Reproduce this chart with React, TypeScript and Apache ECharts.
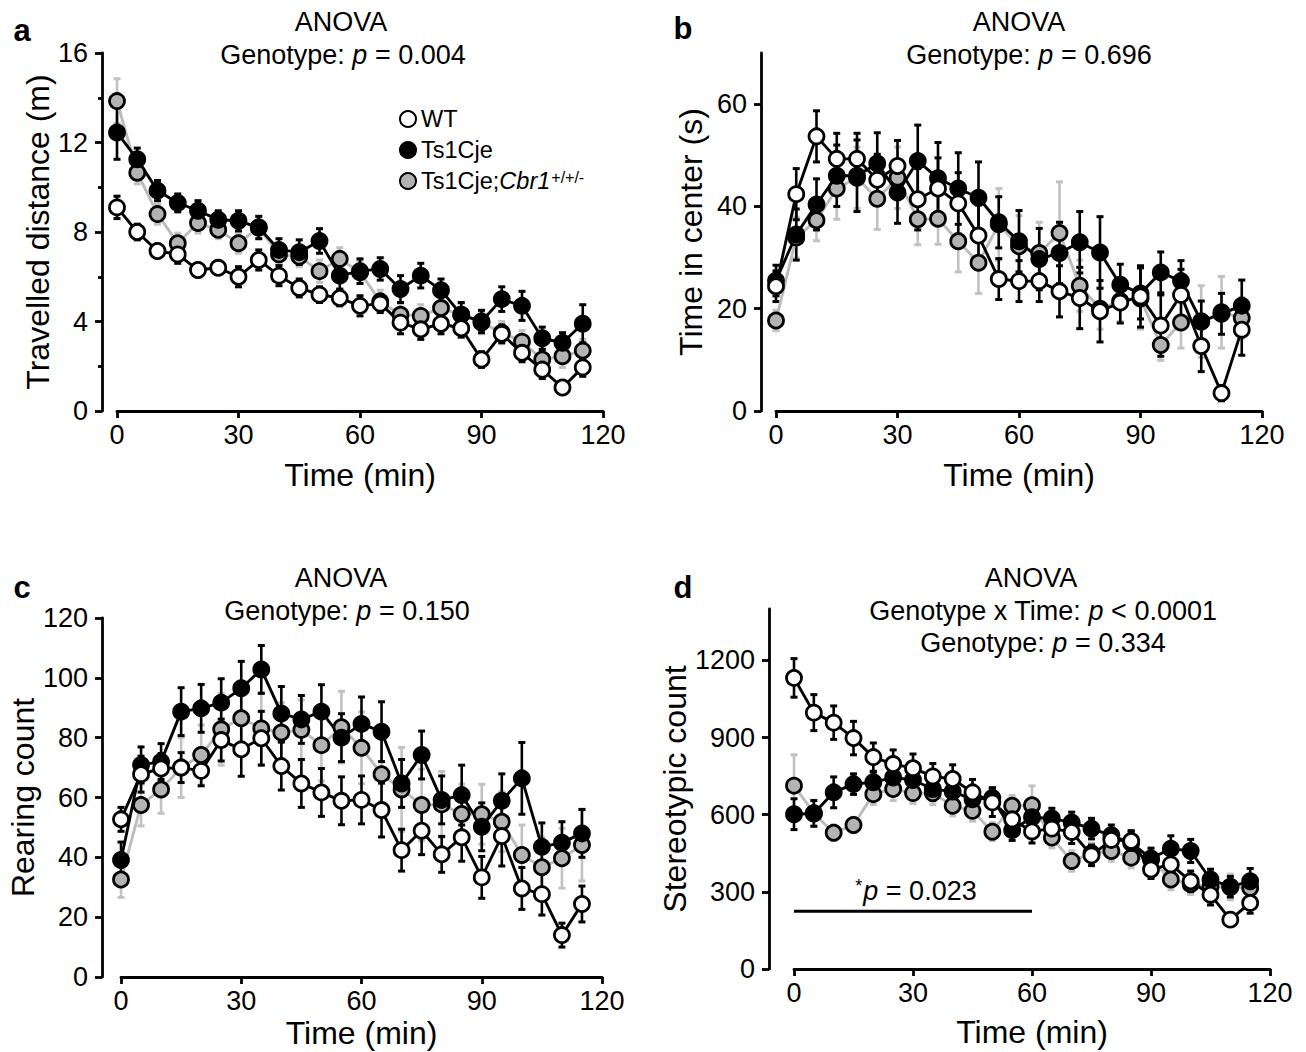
import React, { useEffect, useRef } from "react";
import * as echarts from "echarts";

const FF = "'Liberation Sans', Arial, Helvetica, sans-serif";

// time points (min)
const times = [0, 5, 10, 15, 20, 25, 30, 35, 40, 45, 50, 55, 60, 65, 70, 75, 80, 85, 90, 95, 100, 105, 110, 115];
const xTicks = [0, 30, 60, 90, 120];

// Panel a: travelled distance (m)
const aWT = [9.1, 8.0, 7.15, 7.0, 6.3, 6.4, 6.0, 6.75, 6.05, 5.5, 5.2, 5.05, 4.7, 4.8, 3.95, 3.65, 3.9, 3.7, 2.3, 3.45, 2.6, 1.85, 1.05, 1.95];
const aWTerr = [0.5, 0.35, 0.3, 0.4, 0.3, 0.3, 0.45, 0.45, 0.45, 0.4, 0.35, 0.35, 0.45, 0.4, 0.5, 0.45, 0.45, 0.4, 0.35, 0.4, 0.4, 0.4, 0.3, 0.4];
const aTs = [12.45, 11.25, 9.85, 9.3, 8.95, 8.55, 8.5, 8.2, 7.2, 7.1, 7.6, 6.05, 6.25, 6.35, 5.45, 6.05, 5.4, 4.3, 4.0, 5.0, 4.7, 3.25, 3.05, 3.9];
const aTsErr = [1.2, 0.5, 0.45, 0.4, 0.45, 0.4, 0.45, 0.5, 0.5, 0.55, 0.55, 0.6, 0.55, 0.5, 0.6, 0.55, 0.5, 0.55, 0.5, 0.55, 0.65, 0.5, 0.45, 0.85];
const aCb = [13.85, 10.65, 8.8, 7.5, 8.4, 8.1, 7.5, 8.2, 7.0, 6.9, 6.25, 6.8, 6.2, 4.9, 4.3, 4.25, 4.6, 4.3, 3.95, 3.5, 3.1, 2.3, 2.45, 2.7];
const aCbErr = [1.0, 0.5, 0.45, 0.45, 0.45, 0.4, 0.45, 0.5, 0.45, 0.45, 0.5, 0.5, 0.5, 0.5, 0.5, 0.5, 0.5, 0.5, 0.5, 0.5, 0.5, 0.5, 0.5, 0.5];

// Panel b: time in center (s)
const bWT = [24.4, 42.4, 53.7, 49.3, 49.3, 45.2, 47.9, 41.4, 43.5, 40.6, 34.3, 25.8, 25.4, 25.4, 23.4, 22.1, 19.5, 21.2, 22.4, 16.7, 22.7, 12.7, 3.5, 15.9];
const bWTerr = [3, 5, 5, 5, 5, 5, 5, 6, 6, 6, 6, 4, 4, 4, 5, 6, 6, 4, 6, 6, 5, 5, 1.5, 5];
const bTs = [25.5, 34.5, 40.4, 46, 46, 48.4, 42.7, 48.9, 45.5, 43.5, 41.7, 36.9, 33.2, 29.7, 30.9, 33.0, 31.0, 24.7, 23, 27.1, 25.4, 17.5, 19, 20.6];
const bTsErr = [3, 5, 5, 6, 7, 6, 6, 7, 7, 7, 7, 5, 6, 6, 6, 6, 7, 4, 5, 4, 4, 4, 4, 5];
const bCb = [17.7, 33.9, 37.3, 43.5, 45.6, 41.5, 45.6, 37.5, 37.6, 33.2, 29.0, 36.5, 32.2, 30.9, 34.8, 24.5, 20, 21.5, 22, 12.9, 17.3, 17.5, 19.3, 18.2];
const bCbErr = [2, 4, 4, 6, 6, 6, 6, 5, 5, 6, 6, 7, 6, 6, 10, 5, 4, 4, 6, 3, 5, 7, 7, 4];

// Panel c: rearing count
const cWT = [52.7, 67.8, 69.7, 70.0, 68.9, 79.2, 76.1, 79.8, 70.5, 64.7, 61.7, 58.9, 59.2, 55.8, 42.4, 48.9, 41.0, 46.7, 33.3, 47.1, 29.6, 27.7, 14.0, 24.4];
const cWTerr = [4, 6, 5, 5, 5, 7, 9, 9, 8, 8, 8, 8, 8, 9, 7, 8, 6, 8, 7, 10, 7, 7, 4, 6];
const cTs = [39.1, 70.9, 72.0, 88.7, 89.8, 91.7, 96.5, 102.8, 88.1, 86.1, 88.7, 80.0, 84.6, 82.0, 64.7, 74.2, 59.2, 60.8, 50.2, 58.9, 66.4, 43.5, 44.9, 48.0];
const cTsErr = [6, 6, 6, 8, 8, 8, 9, 8, 9, 8, 9, 8, 9, 10, 8, 8, 8, 10, 8, 9, 12, 8, 7, 8];
const cCb = [32.6, 57.5, 62.7, 70, 74.2, 82.8, 86.5, 83.1, 81.7, 82.6, 77.5, 83.5, 76.6, 67.8, 62.7, 57.5, 57.7, 54.5, 54.4, 51.9, 40.8, 36.7, 39.7, 44.1];
const cCbErr = [6, 7, 8, 10, 10, 12, 12, 12, 10, 10, 12, 12, 12, 14, 14, 12, 11, 10, 10, 10, 10, 10, 10, 12];

// Panel d: stereotypic count
const dWT = [1132, 997, 958, 898, 824, 797, 781, 749, 739, 687, 648, 582, 535, 546, 533, 442, 502, 498, 387, 407, 341, 289, 192, 257];
const dWTerr = [75, 70, 65, 65, 55, 55, 55, 50, 55, 50, 55, 50, 45, 40, 45, 40, 40, 40, 35, 45, 40, 40, 25, 40];
const dTs = [602, 605, 687, 719, 726, 745, 735, 700, 690, 660, 665, 540, 590, 585, 570, 546, 520, 490, 430, 468, 459, 348, 320, 341];
const dTsErr = [60, 50, 60, 40, 40, 45, 45, 45, 45, 40, 40, 40, 40, 40, 40, 40, 40, 45, 40, 50, 45, 40, 40, 50];
const dCb = [713, 606, 530, 560, 680, 700, 684, 684, 635, 615, 534, 635, 637, 511, 420, 450, 459, 433, 426, 348, 330, 320, 319, 315];
const dCbErr = [120, 50, 30, 30, 40, 45, 40, 45, 40, 40, 35, 40, 75, 40, 40, 40, 40, 40, 40, 40, 40, 40, 50, 40];

// significance bar in panel d
const sigFrom = 0;
const sigTo = 60;
const sigY = 225;

const seriesNames = ["WT", "Ts1Cje", "Ts1Cje;Cbr1"];

const BLACK = "#000000";
const GRAY_FILL = "#b3b3b3";
const GRAY_LINE = "#bcbcbc";
const GRAY_ERR = "#c2c2c2";

function errRender(color: string) {
  return (params: any, api: any) => {
    const x = api.value(0);
    const y = api.value(1);
    const e = api.value(2);
    const top = api.coord([x, y + e]);
    const bot = api.coord([x, y - e]);
    const cw = 3.5;
    return {
      type: "group",
      children: [
        { type: "line", shape: { x1: top[0], y1: top[1], x2: bot[0], y2: bot[1] }, style: { stroke: color, lineWidth: 2.6 } },
        { type: "line", shape: { x1: top[0] - cw, y1: top[1], x2: top[0] + cw, y2: top[1] }, style: { stroke: color, lineWidth: 3 } },
        { type: "line", shape: { x1: bot[0] - cw, y1: bot[1], x2: bot[0] + cw, y2: bot[1] }, style: { stroke: color, lineWidth: 3 } },
      ],
    };
  };
}

export default function App() {
  const ref = useRef<HTMLDivElement>(null);

  useEffect(() => {
    document.body.style.margin = "0";
    if (!ref.current) return;
    const chart = echarts.init(ref.current, undefined, { renderer: "svg" });

    const panels = [
      {
        grid: { left: 117, top: 53, width: 486, height: 358 },
        y: { min: 0, max: 16, interval: 4, minor: true, offset: 15, custom: null as number[] | null, name: "Travelled distance (m)", nameGap: 48 },
        xNameGap: 48,
        data: [[aCb, aCbErr], [aTs, aTsErr], [aWT, aWTerr]],
      },
      {
        grid: { left: 776, top: 53, width: 486, height: 358 },
        y: { min: 0, max: 70, interval: 10, minor: false, offset: 15, custom: [0, 20, 40, 60], name: "Time in center (s)", nameGap: 54 },
        xNameGap: 48,
        data: [[bCb, bCbErr], [bTs, bTsErr], [bWT, bWTerr]],
      },
      {
        grid: { left: 121, top: 618, width: 481, height: 359 },
        y: { min: 0, max: 120, interval: 20, minor: false, offset: 19, custom: null, name: "Rearing count", nameGap: 60 },
        xNameGap: 40,
        data: [[cCb, cCbErr], [cTs, cTsErr], [cWT, cWTerr]],
      },
      {
        grid: { left: 794, top: 609, width: 476, height: 360 },
        y: { min: 0, max: 1400, interval: 100, minor: false, offset: 25, custom: [0, 300, 600, 900, 1200], name: "Stereotypic count", nameGap: 67 },
        xNameGap: 47,
        data: [[dCb, dCbErr], [dTs, dTsErr], [dWT, dWTerr]],
      },
    ];

    const styles = [
      { name: seriesNames[2], fill: GRAY_FILL, line: GRAY_LINE, err: GRAY_ERR },
      { name: seriesNames[1], fill: BLACK, line: BLACK, err: BLACK },
      { name: seriesNames[0], fill: "#ffffff", line: BLACK, err: BLACK },
    ];

    const grids: any[] = [];
    const xAxes: any[] = [];
    const yAxes: any[] = [];
    const series: any[] = [];
    const plain = (v: number) => String(v);

    panels.forEach((p, i) => {
      grids.push({ ...p.grid, containLabel: false });
      xAxes.push({
        type: "value",
        gridIndex: i,
        min: 0,
        max: 120,
        interval: 30,
        axisLine: { onZero: false, lineStyle: { color: BLACK, width: 2.8 } },
        axisTick: { length: 7, lineStyle: { color: BLACK, width: 2.8 }, customValues: xTicks },
        axisLabel: { fontSize: 27, color: BLACK, fontFamily: FF, margin: 10, customValues: xTicks, formatter: plain },
        splitLine: { show: false },
        name: "Time (min)",
        nameLocation: "middle",
        nameGap: p.xNameGap,
        nameTextStyle: { fontSize: 32, fontFamily: FF, color: BLACK },
      });
      const yTickVals = p.y.custom;
      yAxes.push({
        type: "value",
        gridIndex: i,
        min: p.y.min,
        max: p.y.max,
        interval: p.y.interval,
        offset: p.y.offset,
        axisLine: { show: true, onZero: false, lineStyle: { color: BLACK, width: 2.8 } },
        axisTick: yTickVals
          ? { show: true, length: 7, lineStyle: { color: BLACK, width: 2.8 }, customValues: yTickVals }
          : { show: true, length: 7, lineStyle: { color: BLACK, width: 2.8 } },
        minorTick: { show: p.y.minor, splitNumber: 2, length: 4, lineStyle: { color: BLACK, width: 2.8 } },
        axisLabel: yTickVals
          ? { fontSize: 27, color: BLACK, fontFamily: FF, margin: 14, customValues: yTickVals, formatter: plain }
          : { fontSize: 27, color: BLACK, fontFamily: FF, margin: 14, formatter: plain },
        splitLine: { show: false },
        name: p.y.name,
        nameLocation: "middle",
        nameGap: p.y.nameGap,
        nameTextStyle: { fontSize: 32, fontFamily: FF, color: BLACK },
      });
      // error bars first
      p.data.forEach((d, k) => {
        series.push({
          type: "custom",
          xAxisIndex: i,
          yAxisIndex: i,
          silent: true,
          z: 2,
          renderItem: errRender(styles[k].err),
          encode: { x: 0, y: 1 },
          data: times.map((t, j) => [t, d[0][j], d[1][j]]),
        });
      });
      p.data.forEach((d, k) => {
        series.push({
          type: "line",
          name: styles[k].name,
          xAxisIndex: i,
          yAxisIndex: i,
          silent: true,
          z: 3,
          clip: false,
          symbol: "circle",
          symbolSize: 15,
          showSymbol: true,
          itemStyle: { color: styles[k].fill, borderColor: BLACK, borderWidth: 2.8 },
          lineStyle: { color: styles[k].line, width: 2.9 },
          emphasis: { disabled: true },
          data: times.map((t, j) => [t, d[0][j]]),
        });
      });
    });

    // significance bar in panel d
    series.push({
      type: "line",
      xAxisIndex: 3,
      yAxisIndex: 3,
      silent: true,
      symbol: "none",
      lineStyle: { color: BLACK, width: 3 },
      data: [[sigFrom, sigY], [sigTo, sigY]],
    });
    series.push({
      type: "scatter",
      xAxisIndex: 3,
      yAxisIndex: 3,
      silent: true,
      symbolSize: 0,
      itemStyle: { color: BLACK, opacity: 1 },
      emphasis: { disabled: true },
      data: [[(sigFrom + sigTo) / 2, sigY]],
      label: {
        show: true,
        color: BLACK,
        opacity: 1,
        position: [3, -20],
        align: "center",
        verticalAlign: "middle",
        formatter: "{s|*}{i|p}{n| = 0.023}",
        rich: {
          s: { fontSize: 18, fontFamily: FF, color: BLACK, verticalAlign: "top", padding: [0, 1, 10, 0] },
          i: { fontSize: 27, fontFamily: FF, fontStyle: "italic", color: BLACK },
          n: { fontSize: 27, fontFamily: FF, color: BLACK },
        },
      },
    });

    const rich = {
      n: { fontSize: 27, fontFamily: FF, fill: BLACK, color: BLACK },
      i: { fontSize: 27, fontFamily: FF, fontStyle: "italic", fill: BLACK, color: BLACK },
    };
    const txt = (x: number, y: number, text: string, align = "center") => ({
      type: "text",
      x,
      y,
      silent: true,
      style: { text, rich, fill: BLACK, fontSize: 27, fontFamily: FF, align, verticalAlign: "middle" },
    });
    const letter = (x: number, y: number, t: string) => ({
      type: "text",
      x,
      y,
      silent: true,
      style: { text: t, fill: BLACK, fontSize: 31, fontWeight: "bold", fontFamily: FF, align: "center", verticalAlign: "middle" },
    });

    const option: any = {
      animation: false,
      backgroundColor: "#ffffff",
      grid: grids,
      xAxis: xAxes,
      yAxis: yAxes,
      series,
      legend: {
        orient: "vertical",
        left: 394,
        top: 102,
        itemWidth: 16,
        itemHeight: 16,
        itemGap: 7,
        itemTextGap: 10,
        icon: "circle",
        selectedMode: false,
        data: seriesNames,
        textStyle: {
          fontSize: 23.5,
          fontFamily: FF,
          color: BLACK,
          rich: {
            n: { fontSize: 23.5, fontFamily: FF, color: BLACK },
            i: { fontSize: 23.5, fontFamily: FF, color: BLACK, fontStyle: "italic" },
            s: { fontSize: 16, fontFamily: FF, color: BLACK, verticalAlign: "top", padding: [0, 0, 8, 1] },
          },
        },
        formatter: (name: string) => (name === "Ts1Cje;Cbr1" ? "{n|Ts1Cje;}{i|Cbr1}{s|+/+/-}" : "{n|" + name + "}"),
      },
      graphic: [
        letter(22, 30, "a"),
        letter(683, 28, "b"),
        letter(22, 587, "c"),
        letter(683, 587, "d"),
        txt(341, 22, "{n|ANOVA}"),
        txt(343, 55, "{n|Genotype: }{i|p}{n| = 0.004}"),
        txt(1019, 22, "{n|ANOVA}"),
        txt(1029, 55, "{n|Genotype: }{i|p}{n| = 0.696}"),
        txt(341, 578, "{n|ANOVA}"),
        txt(347, 611, "{n|Genotype: }{i|p}{n| = 0.150}"),
        txt(1031, 578, "{n|ANOVA}"),
        txt(1043, 611, "{n|Genotype x Time: }{i|p}{n| < 0.0001}"),
        txt(1043, 643, "{n|Genotype: }{i|p}{n| = 0.334}"),
      ],
    };

    chart.setOption(option);
    return () => chart.dispose();
  }, []);

  return <div ref={ref} style={{ width: 1306, height: 1052, background: "#fff" }} />;
}
